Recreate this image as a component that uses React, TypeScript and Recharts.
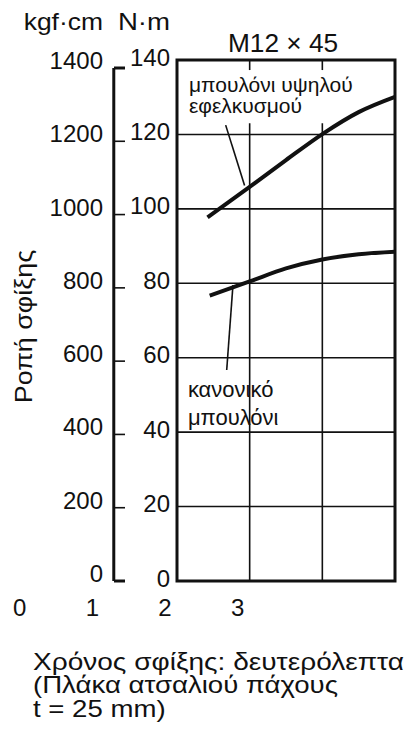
import React from 'react';
import {
  LineChart,
  Line,
  XAxis,
  YAxis,
  CartesianGrid,
  ReferenceLine,
  ReferenceArea,
  ReferenceDot,
} from 'recharts';

// Tightening time (s) vs tightening torque (N·m)
const highTensileBolt = [
  { t: 2.42, torque: 97.7 },
  { t: 3.0, torque: 105.9 },
  { t: 3.5, torque: 113.1 },
  { t: 4.0, torque: 120.1 },
  { t: 4.5, torque: 126.0 },
  { t: 5.0, torque: 130.1 },
];

const normalBolt = [
  { t: 2.45, torque: 76.7 },
  { t: 3.0, torque: 80.5 },
  { t: 3.5, torque: 84.0 },
  { t: 4.0, torque: 86.4 },
  { t: 4.5, torque: 87.8 },
  { t: 5.0, torque: 88.5 },
];

const xTicks = [0, 1, 2, 3];
const nmTicks = [0, 20, 40, 60, 80, 100, 120, 140];
const kgfTicks = [0, 200, 400, 600, 800, 1000, 1200, 1400];
const xGridValues = [3, 4];

const INK = '#111';
const FONT = '"Liberation Sans", Arial, Helvetica, sans-serif';
const NM = 'a-nm';
const KGF = 'b-kgf';

const KgfTick = (props: any) => {
  const { x, y, payload, index, visibleTicksCount } = props;
  const isEnd = index === 0 || index === visibleTicksCount - 1;
  return (
    <g>
      <line x1={x} x2={x + 11} y1={y} y2={y} stroke={INK} strokeWidth={isEnd ? 3 : 1.6} />
      <text
        x={x - 11}
        y={y - 7.5}
        dy="0.355em"
        textAnchor="end"
        fontSize={24}
        fill={INK}
        fontFamily={FONT}
      >
        {payload.value}
      </text>
    </g>
  );
};

const WideText = ({
  x,
  y,
  sx,
  size,
  anchor = 'start',
  rotate = 0,
  children,
}: {
  x: number;
  y: number;
  sx: number;
  size: number;
  anchor?: 'start' | 'middle' | 'end';
  rotate?: number;
  children: React.ReactNode;
}) => (
  <text
    x={0}
    y={0}
    textAnchor={anchor}
    fontSize={size}
    transform={`translate(${x} ${y}) rotate(${rotate}) scale(${sx} 1)`}
  >
    {children}
  </text>
);

export default function App() {
  return (
    <div
      style={{
        position: 'absolute',
        left: 0,
        top: 0,
        width: 410,
        height: 734,
        background: '#fff',
        fontFamily: FONT,
      }}
    >
      <LineChart
        width={410}
        height={734}
        margin={{ top: 60, right: 15, bottom: 123, left: 14 }}
      >
        <XAxis
          dataKey="t"
          type="number"
          domain={[2, 5]}
          allowDataOverflow
          ticks={xTicks}
          interval={0}
          axisLine={false}
          tickLine={false}
          tickSize={0}
          tickMargin={18}
          height={30}
          tick={{ fontSize: 24, fill: INK, dx: -12 }}
        />
        <YAxis
          yAxisId={NM}
          type="number"
          domain={[0, 140]}
          allowDataOverflow
          ticks={nmTicks}
          interval={0}
          axisLine={false}
          tickLine={false}
          tickSize={0}
          tickMargin={7}
          width={63}
          tick={{ fontSize: 24, fill: INK, dy: -3 }}
        />
        <YAxis
          yAxisId={KGF}
          type="number"
          domain={[0, 1400]}
          allowDataOverflow
          padding={{ top: 8 }}
          ticks={kgfTicks}
          interval={0}
          axisLine={false}
          tickLine={false}
          tickSize={0}
          tickMargin={0}
          width={100}
          tick={<KgfTick />}
        />
        <CartesianGrid yAxisId={NM} vertical={false} stroke={INK} strokeWidth={1.6} />
        {xGridValues.map((v) => (
          <ReferenceLine
            key={`g1-${v}`}
            yAxisId={NM}
            segment={[{ x: v, y: 0 }, { x: v, y: 123 }]}
            stroke={INK}
            strokeWidth={1.6}
          />
        ))}
        {xGridValues.map((v) => (
          <ReferenceLine
            key={`g2-${v}`}
            yAxisId={NM}
            segment={[{ x: v, y: 137.3 }, { x: v, y: 140 }]}
            stroke={INK}
            strokeWidth={1.6}
          />
        ))}
        <ReferenceArea
          yAxisId={NM}
          x1={2}
          x2={5}
          y1={0}
          y2={140}
          fill="none"
          stroke={INK}
          strokeWidth={3}
        />
        <ReferenceLine
          yAxisId={KGF}
          segment={[{ x: 1.13, y: 0 }, { x: 1.13, y: 1400 }]}
          ifOverflow="visible"
          stroke={INK}
          strokeWidth={3}
        />
        {/* leader lines */}
        <ReferenceLine
          yAxisId={NM}
          segment={[{ x: 2.67, y: 122.5 }, { x: 2.93, y: 106.3 }]}
          stroke={INK}
          strokeWidth={1.6}
        />
        <ReferenceLine
          yAxisId={NM}
          segment={[{ x: 2.77, y: 79.5 }, { x: 2.684, y: 56.7 }]}
          stroke={INK}
          strokeWidth={1.6}
        />
        {/* annotations */}
        <ReferenceDot
          yAxisId={NM}
          x={2.165}
          y={133.5}
          r={0}
          fill="none"
          stroke="none"
          label={{ value: 'μπουλόνι υψηλού', position: 'right', offset: 0, fontSize: 21, fill: INK }}
        />
        <ReferenceDot
          yAxisId={NM}
          x={2.165}
          y={127.8}
          r={0}
          fill="none"
          stroke="none"
          label={{ value: 'εφελκυσμού', position: 'right', offset: 0, fontSize: 21, fill: INK }}
        />
        <ReferenceDot
          yAxisId={NM}
          x={2.15}
          y={51.5}
          r={0}
          fill="none"
          stroke="none"
          label={{ value: 'κανονικό', position: 'right', offset: 0, fontSize: 22, fill: INK }}
        />
        <ReferenceDot
          yAxisId={NM}
          x={2.15}
          y={43.9}
          r={0}
          fill="none"
          stroke="none"
          label={{ value: 'μπουλόνι', position: 'right', offset: 0, fontSize: 22, fill: INK }}
        />
        <Line
          yAxisId={NM}
          data={highTensileBolt}
          dataKey="torque"
          type="monotone"
          stroke={INK}
          strokeWidth={4}
          dot={false}
          activeDot={false}
          isAnimationActive={false}
        />
        <Line
          yAxisId={NM}
          data={normalBolt}
          dataKey="torque"
          type="monotone"
          stroke={INK}
          strokeWidth={4}
          dot={false}
          activeDot={false}
          isAnimationActive={false}
        />
      </LineChart>
      <svg
        width={410}
        height={734}
        style={{ position: 'absolute', left: 0, top: 0, pointerEvents: 'none' }}
        fontFamily={FONT}
        fill={INK}
      >
        <WideText x={103} y={30} sx={1.15} size={23} anchor="end">kgf·cm</WideText>
        <WideText x={170} y={30} sx={1.2} size={23} anchor="end">N·m</WideText>
        <WideText x={283} y={52} sx={1.05} size={25} anchor="middle">M12 × 45</WideText>
        <WideText x={32} y={326.5} sx={1.17} size={23} anchor="middle" rotate={-90}>
          Ροπή σφίξης
        </WideText>
        <WideText x={33} y={670} sx={1.22} size={23}>Χρόνος σφίξης: δευτερόλεπτα</WideText>
        <WideText x={33} y={693} sx={1.2} size={23}>(Πλάκα ατσαλιού πάχους</WideText>
        <WideText x={33} y={717} sx={1.2} size={23}>t = 25 mm)</WideText>
      </svg>
    </div>
  );
}
